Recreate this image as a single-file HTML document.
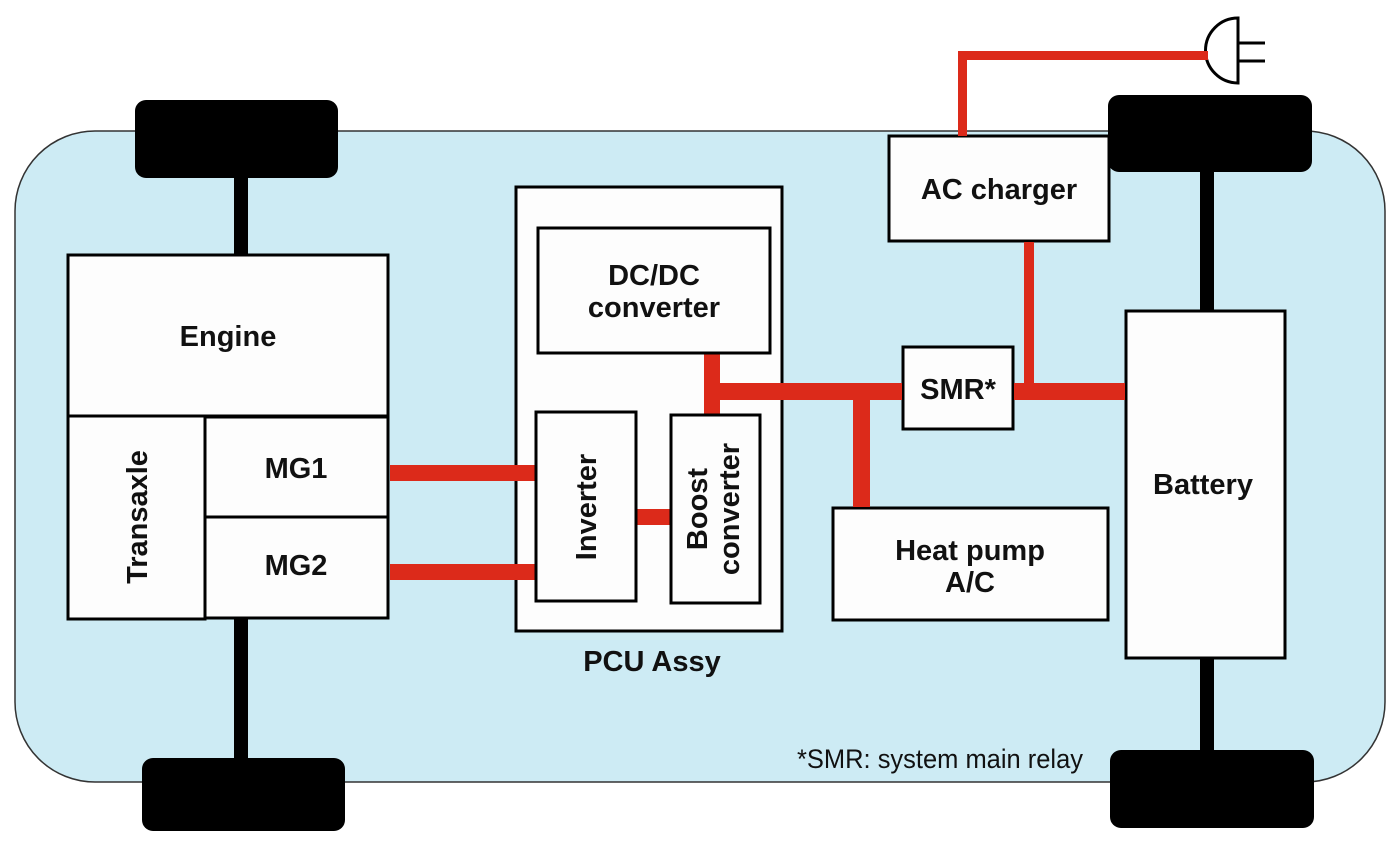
<!DOCTYPE html>
<html><head><meta charset="utf-8"><style>
html,body{margin:0;padding:0;background:#fff;width:1400px;height:860px;overflow:hidden}
svg text{font-family:"Liberation Sans Narrow","Liberation Sans",sans-serif;font-weight:bold;fill:#111}
</style></head><body>
<svg width="1400" height="860" viewBox="0 0 1400 860" xmlns="http://www.w3.org/2000/svg">
<rect x="15" y="131" width="1370" height="651" rx="80" fill="#cdebf4" stroke="#333" stroke-width="1.5"/>
<!-- axles -->
<rect x="234" y="175" width="14" height="85" fill="#000"/>
<rect x="234" y="615" width="14" height="150" fill="#000"/>
<rect x="1200" y="168" width="14" height="145" fill="#000"/>
<rect x="1200" y="655" width="14" height="100" fill="#000"/>
<!-- wheels -->
<rect x="135" y="100" width="203" height="78" rx="11" fill="#000"/>
<rect x="142" y="758" width="203" height="73" rx="11" fill="#000"/>
<rect x="1108" y="95" width="204" height="77" rx="11" fill="#000"/>
<rect x="1110" y="750" width="204" height="78" rx="11" fill="#000"/>
<!-- plug -->
<path d="M1238,18 A32,32 0 0 0 1238,83 Z" fill="#fff" stroke="#000" stroke-width="3"/>
<line x1="1238" y1="43" x2="1265" y2="43" stroke="#000" stroke-width="3"/>
<line x1="1238" y1="61" x2="1265" y2="61" stroke="#000" stroke-width="3"/>
<!-- boxes -->
<g fill="#fdfdfd" stroke="#000" stroke-width="3">
<rect x="68" y="255" width="320" height="161"/>
<rect x="68" y="416" width="137" height="203"/>
<rect x="205" y="417" width="183" height="100"/>
<rect x="205" y="517" width="183" height="101"/>
<rect x="516" y="187" width="266" height="444"/>
<rect x="903" y="347" width="110" height="82"/>
<rect x="833" y="508" width="275" height="112"/>
<rect x="889" y="136" width="220" height="105"/>
<rect x="1126" y="311" width="159" height="347"/>
</g>
<!-- red wires -->
<g fill="#dc2a1a">
<rect x="958" y="52" width="9" height="84"/>
<rect x="958" y="51" width="250" height="9"/>
<rect x="1024" y="242" width="10" height="150"/>
<rect x="390" y="465" width="147" height="16"/>
<rect x="390" y="564" width="147" height="16"/>
<rect x="634" y="509" width="38" height="16"/>
<rect x="704" y="352" width="16" height="64"/>
<rect x="704" y="383" width="198" height="17"/>
<rect x="853" y="392" width="17" height="115"/>
<rect x="1014" y="383" width="111" height="17"/>
</g>
<g fill="#fdfdfd" stroke="#000" stroke-width="3">
<rect x="538" y="228" width="232" height="125"/>
<rect x="536" y="412" width="100" height="189"/>
<rect x="671" y="415" width="89" height="188"/>
</g>
<g font-size="29" text-anchor="middle">
<text x="228" y="346">Engine</text>
<text x="296" y="478">MG1</text>
<text x="296" y="575">MG2</text>
<text transform="translate(147,517) rotate(-90)">Transaxle</text>
<text x="654" y="285">DC/DC</text>
<text x="654" y="317">converter</text>
<text transform="translate(596,507) rotate(-90)">Inverter</text>
<text transform="translate(707,509) rotate(-90)">Boost</text>
<text transform="translate(739,509) rotate(-90)">converter</text>
<text x="958" y="399">SMR*</text>
<text x="970" y="560">Heat pump</text>
<text x="970" y="592">A/C</text>
<text x="999" y="199">AC charger</text>
<text x="1203" y="494">Battery</text>
<text x="652" y="671">PCU Assy</text>
</g>
<text x="797" y="768" font-size="27" style="font-weight:normal" textLength="286" lengthAdjust="spacingAndGlyphs">*SMR: system main relay</text>
</svg>
</body></html>
